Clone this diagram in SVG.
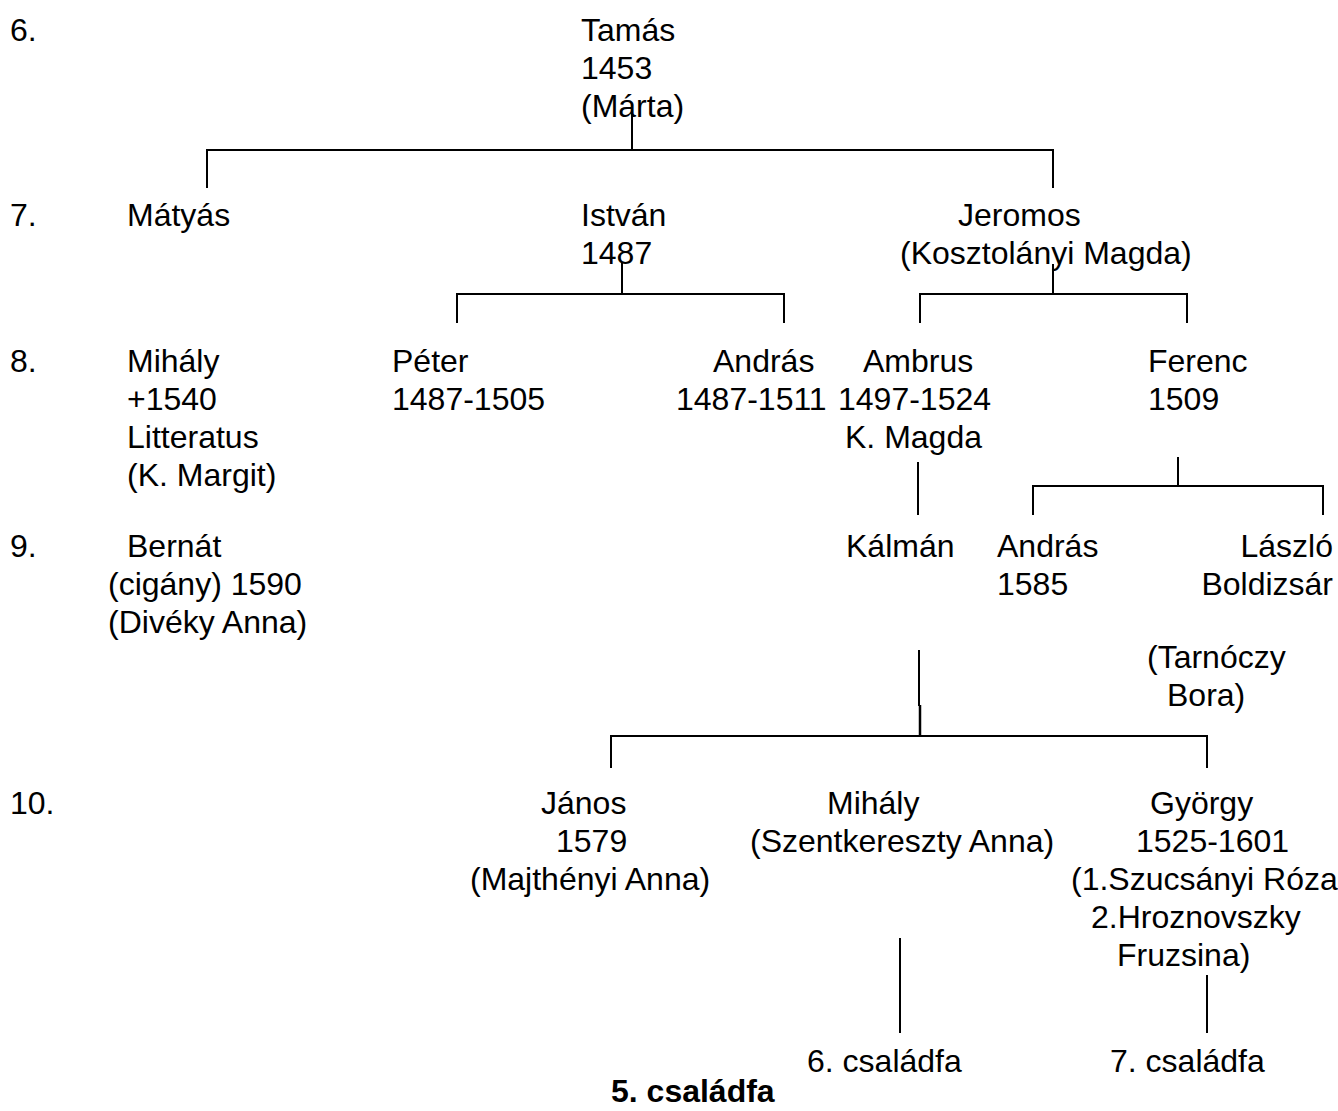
<svg xmlns="http://www.w3.org/2000/svg" width="1338" height="1111" viewBox="0 0 1338 1111">
<style>
text{font-family:"Liberation Sans",Arial,sans-serif;font-size:32px;fill:#000}
.b{font-weight:bold}
.c line{stroke:#000;stroke-width:2}
</style>
<rect width="1338" height="1111" fill="#fff"/>
<g id="generations">
<text x="10" y="41">6.</text>
<text x="10" y="226">7.</text>
<text x="10" y="372">8.</text>
<text x="10" y="557">9.</text>
<text x="10" y="814">10.</text>
</g>
<g class="c" id="connectors">
<line x1="632" y1="110" x2="632" y2="150"/>
<line x1="206" y1="150" x2="1054" y2="150"/>
<line x1="207" y1="150" x2="207" y2="188"/>
<line x1="1053" y1="150" x2="1053" y2="188"/>
<line x1="622" y1="262" x2="622" y2="294"/>
<line x1="456" y1="294" x2="785" y2="294"/>
<line x1="457" y1="294" x2="457" y2="323"/>
<line x1="784" y1="294" x2="784" y2="323"/>
<line x1="1053" y1="264" x2="1053" y2="294"/>
<line x1="919" y1="294" x2="1188" y2="294"/>
<line x1="920" y1="294" x2="920" y2="323"/>
<line x1="1187" y1="294" x2="1187" y2="323"/>
<line x1="918" y1="462" x2="918" y2="515"/>
<line x1="1178" y1="457" x2="1178" y2="486"/>
<line x1="1032" y1="486" x2="1324" y2="486"/>
<line x1="1033" y1="486" x2="1033" y2="515"/>
<line x1="1323" y1="486" x2="1323" y2="515"/>
<line x1="919" y1="650" x2="919" y2="706"/>
<line x1="920" y1="705" x2="920" y2="736" style="stroke-width:2.5"/>
<line x1="610" y1="736" x2="1208" y2="736"/>
<line x1="611" y1="736" x2="611" y2="768"/>
<line x1="1207" y1="736" x2="1207" y2="768"/>
<line x1="900" y1="938" x2="900" y2="1033"/>
<line x1="1207" y1="975" x2="1207" y2="1033"/>
</g>
<g id="tamas"><text x="581" y="41">Tamás<tspan x="581" y="79">1453</tspan><tspan x="581" y="117">(Márta)</tspan></text></g>
<g id="matyas"><text x="127" y="226">Mátyás</text></g>
<g id="istvan"><text x="581" y="226">István<tspan x="581" y="264">1487</tspan></text></g>
<g id="jeromos"><text x="958" y="226">Jeromos<tspan x="900" y="264">(Kosztolányi Magda)</tspan></text></g>
<g id="mihaly8"><text x="127" y="372">Mihály<tspan x="127" y="410">+1540</tspan><tspan x="127" y="448">Litteratus</tspan><tspan x="127" y="486">(K. Margit)</tspan></text></g>
<g id="peter"><text x="392" y="372">Péter<tspan x="392" y="410">1487-1505</tspan></text></g>
<g id="andras8"><text x="713" y="372">András<tspan x="676" y="410">1487-1511</tspan></text></g>
<g id="ambrus"><text x="863" y="372">Ambrus<tspan x="838" y="410">1497-1524</tspan><tspan x="845" y="448">K. Magda</tspan></text></g>
<g id="ferenc"><text x="1148" y="372">Ferenc<tspan x="1148" y="410">1509</tspan></text></g>
<g id="bernat"><text x="127" y="557">Bernát<tspan x="108" y="595">(cigány) 1590</tspan><tspan x="108" y="633">(Divéky Anna)</tspan></text></g>
<g id="kalman"><text x="846" y="557">Kálmán</text></g>
<g id="andras9"><text x="997" y="557">András<tspan x="997" y="595">1585</tspan></text></g>
<g id="laszlo"><text x="1333" y="557" text-anchor="end">László<tspan x="1333" y="595">Boldizsár</tspan></text></g>
<g id="tarnoczy"><text x="1147" y="668">(Tarnóczy<tspan x="1167" y="706">Bora)</tspan></text></g>
<g id="janos"><text x="541" y="814">János<tspan x="556" y="852">1579</tspan><tspan x="470" y="890">(Majthényi Anna)</tspan></text></g>
<g id="mihaly10"><text x="827" y="814">Mihály<tspan x="750" y="852">(Szentkereszty Anna)</tspan></text></g>
<g id="gyorgy"><text x="1150" y="814">György<tspan x="1136" y="852">1525-1601</tspan><tspan x="1071" y="890">(1.Szucsányi Róza</tspan><tspan x="1091" y="928">2.Hroznovszky</tspan><tspan x="1117" y="966">Fruzsina)</tspan></text></g>
<g id="csaladfa6"><text x="807" y="1072">6. családfa</text></g>
<g id="csaladfa7"><text x="1110" y="1072">7. családfa</text></g>
<g id="title"><text class="b" x="611" y="1102">5. családfa</text></g>
</svg>
